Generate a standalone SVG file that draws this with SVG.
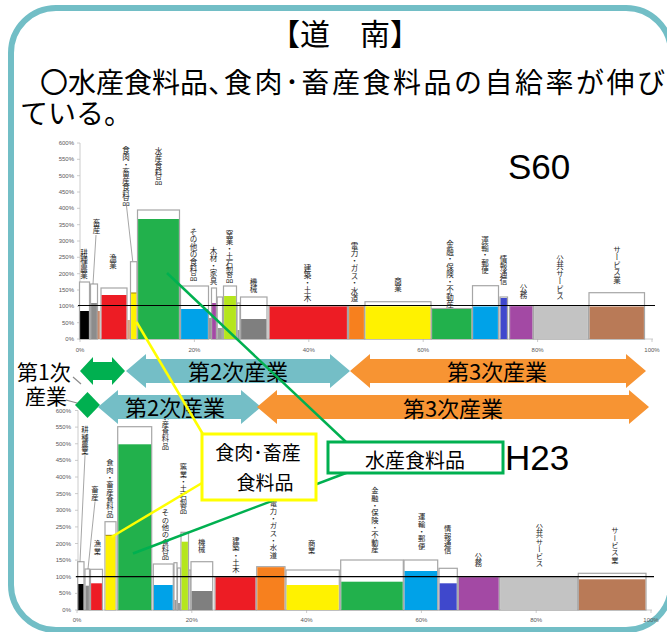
<svg xmlns="http://www.w3.org/2000/svg" width="667" height="632" viewBox="0 0 667 632">
<defs>
<style>
.jp{font-family:"Noto Sans CJK JP","Noto Sans",sans-serif;fill:#000}
.ax{font-family:"Liberation Sans",Arial,sans-serif;font-size:6px;fill:#595959}
.ay{text-anchor:end}
.axc{text-anchor:middle}
.v{font-family:"Noto Sans CJK JP",sans-serif;writing-mode:vertical-rl;font-size:7.5px;fill:#222}
.vb{font-size:7.3px}
.ol{fill:#fff;stroke:#A6A6A6;stroke-width:1.2}
.axis{stroke:#BFBFBF;stroke-width:0.8;fill:none}
.lead{stroke:#7F7F7F;stroke-width:0.7;fill:none}
.ref{stroke:#000;stroke-width:1.2}
.big{font-family:"Liberation Sans",Arial,sans-serif;font-size:35px;fill:#000}
.arr{font-family:"Noto Sans CJK JP",sans-serif;font-size:22px;fill:#000;text-anchor:middle}
.teal{fill:#74BEC6}
.org{fill:#F79433}
.grn{fill:#00B050}
</style>
</defs>

<rect id="frame" x="11" y="8" width="660" height="622" rx="45" fill="#fff" stroke="#72BEC6" stroke-width="6"/>

<g id="title">
<text class="jp" x="345" y="45" font-size="30" text-anchor="middle">【道　南】</text>
</g>
<g id="subtitle">
<text class="jp" x="40" y="93" font-size="28">〇水産食料品、<tspan dx="-12" letter-spacing="2.5">食肉･畜産食料品の自給率が伸び</tspan></text>
<text class="jp" x="20" y="124" font-size="28">ている。</text>
</g>

<!-- ===== Top chart S60 ===== -->
<g id="chart-s60">
<g id="s60-axis">
<line class="axis" x1="80" y1="143" x2="80" y2="339"/>
<line class="axis" x1="80" y1="339" x2="653" y2="339"/>
<path class="axis" d="M77 143H80M77 159.3H80M77 175.7H80M77 192H80M77 208.3H80M77 224.7H80M77 241H80M77 257.3H80M77 273.7H80M77 290H80M77 306.3H80M77 322.7H80M77 339H80"/>
<path class="axis" d="M80 339V342M194.4 339V342M308.8 339V342M423.2 339V342M537.6 339V342M652 339V342"/>
<text class="ax ay" x="74" y="145">600%</text>
<text class="ax ay" x="74" y="161.3">550%</text>
<text class="ax ay" x="74" y="177.7">500%</text>
<text class="ax ay" x="74" y="194">450%</text>
<text class="ax ay" x="74" y="210.3">400%</text>
<text class="ax ay" x="74" y="226.7">350%</text>
<text class="ax ay" x="74" y="243">300%</text>
<text class="ax ay" x="74" y="259.3">250%</text>
<text class="ax ay" x="74" y="275.7">200%</text>
<text class="ax ay" x="74" y="292">150%</text>
<text class="ax ay" x="74" y="308.3">100%</text>
<text class="ax ay" x="74" y="324.7">50%</text>
<text class="ax ay" x="74" y="341">0%</text>
<text class="ax axc" x="80" y="352">0%</text>
<text class="ax axc" x="194.4" y="352">20%</text>
<text class="ax axc" x="308.8" y="352">40%</text>
<text class="ax axc" x="423.2" y="352">60%</text>
<text class="ax axc" x="537.6" y="352">80%</text>
<text class="ax axc" x="652" y="352">100%</text>
</g>
<g id="s60-bars">
<rect class="ol" x="79.5" y="282" width="10" height="57"/><rect x="80.1" y="311" width="8.8" height="28" fill="#000"/>
<rect class="ol" x="90.5" y="284" width="7" height="55"/><rect x="91.1" y="303" width="5.8" height="36" fill="#8C8C8C"/>
<rect x="97.6" y="311" width="2.2" height="28" fill="#C98A6E"/>
<rect class="ol" x="101" y="288" width="26" height="51"/><rect x="101.6" y="295" width="24.8" height="44" fill="#ED1C24"/>
<rect x="127.3" y="320" width="2.6" height="19" fill="#D9A080"/>
<rect class="ol" x="130.5" y="261.7" width="6.5" height="77.3"/><rect x="131.1" y="292.7" width="5.3" height="46.3" fill="#FFF200"/><line x1="131.1" y1="293" x2="136.4" y2="293" stroke="#8B6B14" stroke-width="0.8"/>
<rect class="ol" x="137.5" y="210" width="42" height="129"/><rect x="138.1" y="219" width="40.8" height="120" fill="#22B14C"/>
<rect class="ol" x="180.5" y="286" width="28" height="53"/><rect x="181.1" y="309" width="26.8" height="30" fill="#00A2E8"/>
<rect x="208.8" y="318" width="2.2" height="21" fill="#9A9A9A"/>
<rect class="ol" x="211.5" y="288" width="5" height="51"/><rect x="212.1" y="303" width="3.8" height="36" fill="#A349A4"/>
<rect class="ol" x="217.2" y="297" width="5.3" height="42"/><rect x="217.8" y="328" width="4.1" height="11" fill="#9A9A9A"/>
<rect class="ol" x="223.5" y="286" width="13" height="53"/><rect x="224.1" y="296" width="11.8" height="43" fill="#B5E61D"/>
<rect class="ol" x="237" y="303" width="3" height="36"/><rect x="237.5" y="330" width="2" height="9" fill="#9A9A9A"/>
<rect class="ol" x="240.5" y="297" width="26.5" height="42"/><rect x="241.1" y="319" width="25.3" height="20" fill="#7F7F7F"/>
<rect class="ol" x="269" y="306" width="78.5" height="33"/><rect x="269.6" y="306.5" width="77.3" height="32.5" fill="#ED1C24"/>
<rect class="ol" x="348.5" y="306" width="16" height="33"/><rect x="349.1" y="306.5" width="14.8" height="32.5" fill="#F7801E"/>
<rect class="ol" x="365" y="301.7" width="66" height="37.3"/><rect x="365.6" y="306.3" width="64.8" height="32.7" fill="#FFF200"/>
<rect class="ol" x="431.5" y="308.5" width="40.5" height="30.5"/><rect x="432.1" y="309" width="39.3" height="30" fill="#22B14C"/>
<rect class="ol" x="472.5" y="285.7" width="26" height="53.3"/><rect x="473.1" y="306.5" width="24.8" height="32.5" fill="#00A2E8"/>
<rect class="ol" x="500" y="297" width="7.5" height="42"/><rect x="500.6" y="298" width="6.3" height="41" fill="#3F48CC"/>
<rect class="ol" x="509.5" y="305.7" width="23.5" height="33.3"/><rect x="510.1" y="306.2" width="22.3" height="32.8" fill="#A349A4"/>
<rect class="ol" x="533.5" y="305.7" width="55" height="33.3"/><rect x="534.1" y="306.2" width="53.8" height="32.8" fill="#C3C3C3"/>
<rect class="ol" x="589" y="292.7" width="55.5" height="46.3"/><rect x="589.6" y="306.5" width="54.3" height="32.5" fill="#B97A57"/>
</g>
<line id="s60-100" class="ref" x1="78" y1="305.5" x2="655" y2="305.5"/>
<g id="s60-labels">
<path class="lead" d="M96 235L93 284M126.5 206L132.7 261"/>
<text class="v" x="84" y="249">耕種農業</text>
<text class="v" x="96.5" y="219">畜産</text>
<text class="v" x="113" y="254">漁業</text>
<text class="v" x="126" y="146">食肉・畜産食料品</text>
<text class="v" x="158.5" y="147">水産食料品</text>
<text class="v" x="193.5" y="228">その他の食料品</text>
<text class="v" x="213.5" y="247">木材・家具</text>
<text class="v" x="229.5" y="230">窯業・土石製品</text>
<text class="v" x="253.5" y="278">機械</text>
<text class="v" x="307.5" y="264">建築・土木</text>
<text class="v" x="354.5" y="242">電力・ガス・水道</text>
<text class="v" x="398" y="277">商業</text>
<text class="v" x="450" y="240.5">金融・保険・不動産</text>
<text class="v" x="485" y="236.5">運輸・郵便</text>
<text class="v" x="503.5" y="255">情報通信</text>
<text class="v" x="523.5" y="284">公務</text>
<text class="v" x="560" y="255">公共サービス</text>
<text class="v" x="617" y="246">サービス業</text>
</g>
<text id="s60" class="big" x="508" y="179">S60</text>
</g>

<!-- ===== Bottom chart H23 ===== -->
<g id="chart-h23">
<g id="h23-axis">
<line class="axis" x1="78" y1="410.5" x2="78" y2="610"/>
<line class="axis" x1="78" y1="610" x2="652" y2="610"/>
<path class="axis" d="M75 410.5H78M75 427.1H78M75 443.75H78M75 460.4H78M75 477H78M75 493.6H78M75 510.25H78M75 526.9H78M75 543.5H78M75 560.1H78M75 576.75H78M75 593.4H78M75 610H78"/>
<path class="axis" d="M77 610V613M191.8 610V613M306.6 610V613M421.4 610V613M536.2 610V613M651 610V613"/>
<text class="ax ay" x="71" y="412.5">600%</text>
<text class="ax ay" x="71" y="429.1">550%</text>
<text class="ax ay" x="71" y="445.75">500%</text>
<text class="ax ay" x="71" y="462.4">450%</text>
<text class="ax ay" x="71" y="479">400%</text>
<text class="ax ay" x="71" y="495.6">350%</text>
<text class="ax ay" x="71" y="512.25">300%</text>
<text class="ax ay" x="71" y="528.9">250%</text>
<text class="ax ay" x="71" y="545.5">200%</text>
<text class="ax ay" x="71" y="562.1">150%</text>
<text class="ax ay" x="71" y="578.75">100%</text>
<text class="ax ay" x="71" y="595.4">50%</text>
<text class="ax ay" x="71" y="612">0%</text>
<text class="ax axc" x="77" y="621.5">0%</text>
<text class="ax axc" x="191.8" y="621.5">20%</text>
<text class="ax axc" x="306.6" y="621.5">40%</text>
<text class="ax axc" x="421.4" y="621.5">60%</text>
<text class="ax axc" x="536.2" y="621.5">80%</text>
<text class="ax axc" x="651" y="621.5">100%</text>
</g>
<g id="h23-bars">
<rect class="ol" x="77.7" y="561.7" width="6.3" height="48.3"/><rect x="78.3" y="584" width="5.1" height="26" fill="#000"/>
<rect class="ol" x="85" y="569" width="4.5" height="41"/><rect x="85.6" y="585.7" width="3.3" height="24.3" fill="#8C8C8C"/>
<rect class="ol" x="90.5" y="569.3" width="12" height="40.7"/><rect x="91.1" y="583.3" width="10.8" height="26.7" fill="#ED1C24"/>
<rect class="ol" x="105" y="521.7" width="11" height="88.3"/><rect x="105.6" y="535" width="9.8" height="75" fill="#FFF200"/><line x1="105.6" y1="535.3" x2="115.4" y2="535.3" stroke="#8B6B14" stroke-width="0.8"/>
<rect class="ol" x="117.7" y="426.7" width="34" height="183.3"/><rect x="118.3" y="444.3" width="32.8" height="165.7" fill="#22B14C"/>
<rect class="ol" x="153.3" y="564" width="20" height="46"/><rect x="153.9" y="585" width="18.8" height="25" fill="#00A2E8"/>
<rect class="ol" x="174" y="562.7" width="3" height="47.3"/><rect x="174.5" y="600" width="2" height="10" fill="#9A9A9A"/>
<rect class="ol" x="177.5" y="568" width="3" height="42"/><rect x="178" y="603" width="2" height="7" fill="#9A9A9A"/>
<rect class="ol" x="181" y="532.3" width="7.5" height="77.7"/><rect x="181.6" y="541.7" width="6.3" height="68.3" fill="#B5E61D"/>
<rect class="ol" x="189" y="570" width="1.8" height="40"/>
<rect class="ol" x="191" y="561.7" width="21.7" height="48.3"/><rect x="191.6" y="591" width="20.5" height="19" fill="#7F7F7F"/>
<rect class="ol" x="215" y="576.7" width="41" height="33.3"/><rect x="215.6" y="577.2" width="39.8" height="32.8" fill="#ED1C24"/>
<rect class="ol" x="256.7" y="566.7" width="28.3" height="43.3"/><rect x="257.3" y="567.2" width="27.1" height="42.8" fill="#F7801E"/>
<rect class="ol" x="286" y="570" width="53.3" height="40"/><rect x="286.6" y="585" width="52.1" height="25" fill="#FFF200"/>
<rect class="ol" x="340.7" y="560" width="62.6" height="50"/><rect x="341.3" y="581.7" width="61.4" height="28.3" fill="#22B14C"/>
<rect class="ol" x="404" y="560" width="33.7" height="50"/><rect x="404.6" y="571" width="32.5" height="39" fill="#00A2E8"/>
<rect class="ol" x="439" y="568.3" width="18.3" height="41.7"/><rect x="439.6" y="583.3" width="17.1" height="26.7" fill="#3F48CC"/>
<rect class="ol" x="458.3" y="576.7" width="41" height="33.3"/><rect x="458.9" y="577.2" width="39.8" height="32.8" fill="#A349A4"/>
<rect class="ol" x="500" y="576.7" width="77.7" height="33.3"/><rect x="500.6" y="577.2" width="76.5" height="32.8" fill="#C3C3C3"/>
<rect class="ol" x="578.3" y="573.3" width="67.7" height="36.7"/><rect x="578.9" y="579.3" width="66.5" height="30.7" fill="#B97A57"/>
</g>
<line id="h23-100" class="ref" x1="76" y1="576.7" x2="654" y2="576.7"/>
<g id="h23-labels">
<path class="lead" d="M85 455.5L80 561.7M95 501.5L88 569"/>
<text class="v vb" x="85" y="426">耕種農業</text>
<text class="v vb" x="95" y="486">畜産</text>
<text class="v vb" x="97.5" y="540">漁業</text>
<text class="v vb" x="110" y="459">食肉・畜産食料品</text>
<text class="v vb" x="165.5" y="413">水産食料品</text>
<text class="v vb" x="183.5" y="463">窯業・土石製品</text>
<text class="v vb" x="165.5" y="509">その他の食料品</text>
<text class="v vb" x="201.7" y="538.5">機械</text>
<text class="v vb" x="236" y="536.5">建築・土木</text>
<text class="v vb" x="273.3" y="500">電力・ガス・水道</text>
<text class="v vb" x="311.7" y="539.5">商業</text>
<text class="v vb" x="375" y="487">金融・保険・不動産</text>
<text class="v vb" x="421.7" y="513">運輸・郵便</text>
<text class="v vb" x="447.7" y="525">情報通信</text>
<text class="v vb" x="478.3" y="552.5">公務</text>
<text class="v vb" x="539.3" y="523.5">公共サービス</text>
<text class="v vb" x="615" y="527">サービス業</text>
</g>
<text id="h23" class="big" x="505" y="470">H23</text>
</g>

<!-- ===== Industry arrows ===== -->
<g id="sector-arrows">
<g id="arrow-1-s60"><polygon class="grn" points="80,371 93,357 93,362 112,362 112,357 125,371 112,385 112,380 93,380 93,385"/></g>
<g id="arrow-2-s60"><polygon class="teal" points="126,371 146,354 146,359 330,359 330,354 350,371 330,388 330,383 146,383 146,388"/><text class="arr" x="238" y="380">第2次産業</text></g>
<g id="arrow-3-s60"><polygon class="org" points="350,371 370,354 370,359 626,359 626,354 646,371 626,388 626,383 370,383 370,388"/><text class="arr" x="497" y="380">第3次産業</text></g>
<g id="arrow-1-h23"><polygon class="grn" points="87.5,392 100,405 87.5,418 75,405"/></g>
<g id="arrow-2-h23"><polygon class="teal" points="98,407 118,390 118,395 241,395 241,390 261,407 241,424 241,419 118,419 118,424"/><text class="arr" x="175" y="416">第2次産業</text></g>
<g id="arrow-3-h23"><polygon class="org" points="257,407 277,390 277,395 629,395 629,390 649,407 629,424 629,419 277,419 277,424"/><text class="arr" x="453" y="417">第3次産業</text></g>
<g id="label-1ji">
<path d="M73 377L81 384M66 400L77 403" stroke="#8C8C8C" stroke-width="1.2" fill="none"/>
<text class="jp" x="17" y="380" font-size="21">第1次</text>
<text class="jp" x="25" y="404" font-size="21">産業</text>
</g>
</g>

<!-- ===== Callouts ===== -->
<g id="connectors">
<line x1="136.5" y1="322" x2="204" y2="436" stroke="#FFFF00" stroke-width="2.5"/>
<line x1="202" y1="483" x2="111.5" y2="537" stroke="#FFFF00" stroke-width="2.5"/>
<line x1="167" y1="273" x2="346" y2="442" stroke="#00B050" stroke-width="2.5"/>
<line x1="350" y1="471.5" x2="133" y2="553.5" stroke="#00B050" stroke-width="2.5"/>
</g>
<g id="callout-meat">
<rect x="202" y="434" width="114" height="66" fill="#fff" stroke="#FFFF00" stroke-width="3"/>
<text class="jp" x="258" y="460" font-size="19" text-anchor="middle">食肉･畜産</text>
<text class="jp" x="265" y="490" font-size="19" text-anchor="middle">食料品</text>
</g>
<g id="callout-fish">
<rect x="328" y="442" width="175" height="31" fill="#fff" stroke="#00B050" stroke-width="3"/>
<text class="jp" x="415" y="468" font-size="20" text-anchor="middle">水産食料品</text>
</g>
</svg>
